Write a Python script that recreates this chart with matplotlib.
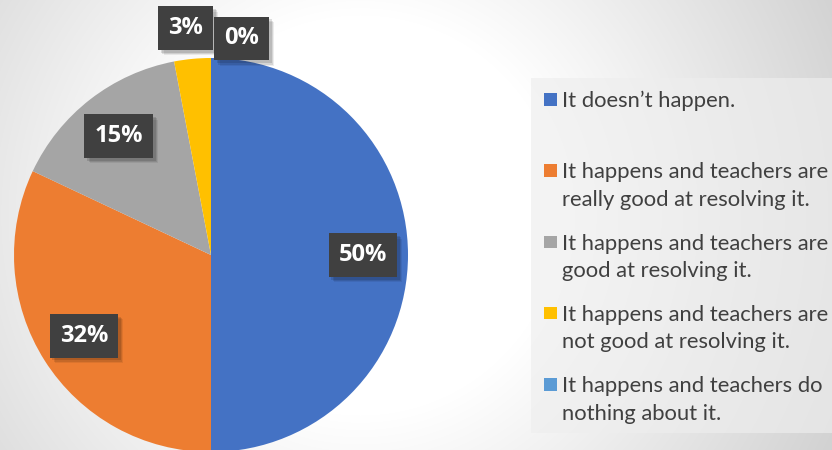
import numpy as np
import matplotlib
matplotlib.use("Agg")
import matplotlib.pyplot as plt
from matplotlib.patches import Rectangle
import matplotlib.patheffects as pe
from matplotlib.font_manager import FontProperties
from matplotlib.textpath import TextPath

# ---- data ----
categories = [
    "It doesn\u2019t happen.",
    "It happens and teachers are\nreally good at resolving it.",
    "It happens and teachers are\ngood at resolving it.",
    "It happens and teachers are\nnot good at resolving it.",
    "It happens and teachers do\nnothing about it.",
]
values = [50, 32, 15, 3, 0]
pct_labels = ["50%", "32%", "15%", "3%", "0%"]
colors = ["#4472C4", "#ED7D31", "#A5A5A5", "#FFC000", "#5B9BD5"]

# ---- style ----
W, H, DPI = 832, 450, 100
label_radius = [0.77, 0.765, 0.765, 1.16, 1.11]
label_angle_nudge = [0, 0, 0, 1.0, -8.0]
text_color = "#404040"

fig = plt.figure(figsize=(W / DPI, H / DPI), dpi=DPI)

# background radial gradient
bg = fig.add_axes([0, 0, 1, 1])
yy, xx = np.mgrid[0:H, 0:W]
cx, cy = 360, 215
d = np.hypot(xx - cx, yy - cy)
v = 255 - np.clip((d - 200) / (540 - 200), 0, 1) * (255 - 208)
img = np.dstack([v, v, v]) / 255.0
bg.imshow(img, extent=[0, W, H, 0], aspect="auto", interpolation="bilinear")
bg.set_xlim(0, W)
bg.set_ylim(H, 0)
bg.axis("off")

# legend panel
bg.add_patch(Rectangle((531, 78), W - 531 + 5, 433 - 78, facecolor="#eeeeee",
                       alpha=0.66, edgecolor="none", zorder=2))

# pie
R = 197
pcx, pcy = 211, 255
ax = fig.add_axes([(pcx - R) / W, (H - pcy - R) / H, 2 * R / W, 2 * R / H])
ax.set_facecolor("none")
wedges, _ = ax.pie(values, colors=colors, startangle=90, counterclock=False,
                   radius=1, wedgeprops=dict(linewidth=0))
ax.set_xlim(-1, 1)
ax.set_ylim(-1, 1)
ax.set_aspect("equal")
ax.axis("off")

shadow_fx = [pe.withSimplePatchShadow(offset=(4, -4), shadow_rgbFace="black", alpha=0.07),
             pe.withSimplePatchShadow(offset=(3, -3), shadow_rgbFace="black", alpha=0.10),
             pe.withSimplePatchShadow(offset=(2, -2), shadow_rgbFace="black", alpha=0.12),
             pe.Normal()]
for w, lab, r, nud in zip(wedges, pct_labels, label_radius, label_angle_nudge):
    ang = np.deg2rad((w.theta1 + w.theta2) / 2 + nud)
    t = ax.text(r * np.cos(ang), r * np.sin(ang), lab, ha="center", va="center",
                color="white", fontsize=17, fontweight="bold", family="Open Sans",
                bbox=dict(boxstyle="square,pad=0.42", facecolor="#404040",
                          edgecolor="none", linewidth=0),
                zorder=5, clip_on=False)
    t.get_bbox_patch().set_path_effects(shadow_fx)

# legend (manual)
fp = FontProperties(family="Lato", size=10)
ref_w = TextPath((0, 0), "It happens and teachers are", prop=fp).get_extents().width
leg_fs = 10 * (264 / (ref_w * DPI / 72))

base0, step, lsp = 107, 71.3, 27.5
for i, (lab, c) in enumerate(zip(categories, colors)):
    b = base0 + i * step
    bg.add_patch(Rectangle((544, b - 14), 12.5, 12.5, facecolor=c, edgecolor="none", zorder=3))
    for j, line in enumerate(lab.split("\n")):
        bg.text(562, b + j * lsp, line, ha="left", va="baseline", color=text_color,
                fontsize=leg_fs, family="Lato", zorder=4)

fig.savefig("out.png", dpi=DPI)
